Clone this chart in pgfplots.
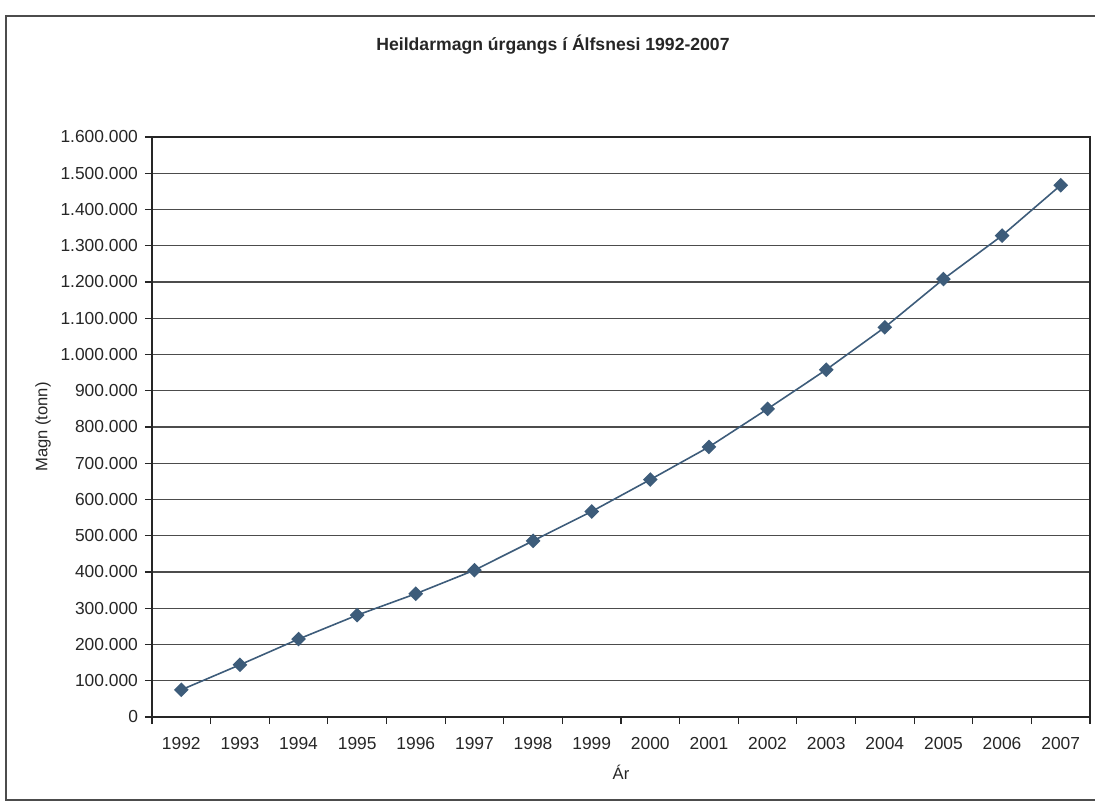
\documentclass[border=0pt]{standalone}
\usepackage{pgfplots}
\pgfplotsset{compat=1.18}
\usepackage{fontspec}
\setmainfont{Liberation Sans}
\definecolor{serie}{HTML}{3D5C7A}
\begin{document}
\begin{tikzpicture}
\useasboundingbox (-76pt,-43pt) rectangle (471.5pt,358.5pt);
\begin{axis}[
  at={(0,0)}, anchor=south west,
  scale only axis,
  width=469pt, height=290pt,
  xmin=-0.5, xmax=15.5,
  ymin=0, ymax=1600000,
  xtick={0,...,15},
  xticklabels={1992,1993,1994,1995,1996,1997,1998,1999,2000,2001,2002,2003,2004,2005,2006,2007},
  major x tick style={draw=none},
  minor xtick={-0.5,0.5,...,15.5},
  minor tick length=3.5pt,
  ytick={0,100000,...,1600000},
  major tick length=3.5pt,
  tick align=outside,
  tick pos=left,
  ymajorgrids,
  grid style={black!70, line width=0.55pt},
  axis line style={black!85, line width=0.8pt},
  tick style={black!85, line width=0.6pt},
  scaled y ticks=false,
  yticklabel style={/pgf/number format/.cd, 1000 sep={.}, fixed, assume math mode=true},
  xticklabel style={/pgf/number format/assume math mode=true, yshift=-3pt},
  ticklabel style={font=\fontsize{8.7pt}{10pt}\selectfont, text=black!85},
  xlabel={Ár}, ylabel={Magn (tonn)},
  label style={font=\fontsize{8.3pt}{10pt}\selectfont, text=black!85},
  xlabel style={yshift=-1pt},
  ylabel style={yshift=-2pt},
  clip=false,
]
\addplot[color=serie, line width=0.8pt, mark=square*, mark size=2.2pt, mark options={fill=serie, draw=serie, rotate=45}]
coordinates {
(0,75000) (1,144000) (2,215000) (3,281000) (4,340000) (5,405000)
(6,486000) (7,567000) (8,655000) (9,745000) (10,850000) (11,958000)
(12,1075000) (13,1208000) (14,1328000) (15,1467000)
};
\end{axis}
\node[font=\bfseries\fontsize{8.8pt}{10pt}\selectfont, text=black!85] at (200.5pt,336pt) {Heildarmagn úrgangs í Álfsnesi 1992-2007};
\draw[black!70, line width=0.6pt] (471.5pt,350.5pt) -- (-73pt,350.5pt) -- (-73pt,-41.5pt) -- (471.5pt,-41.5pt);
\end{tikzpicture}
\end{document}
